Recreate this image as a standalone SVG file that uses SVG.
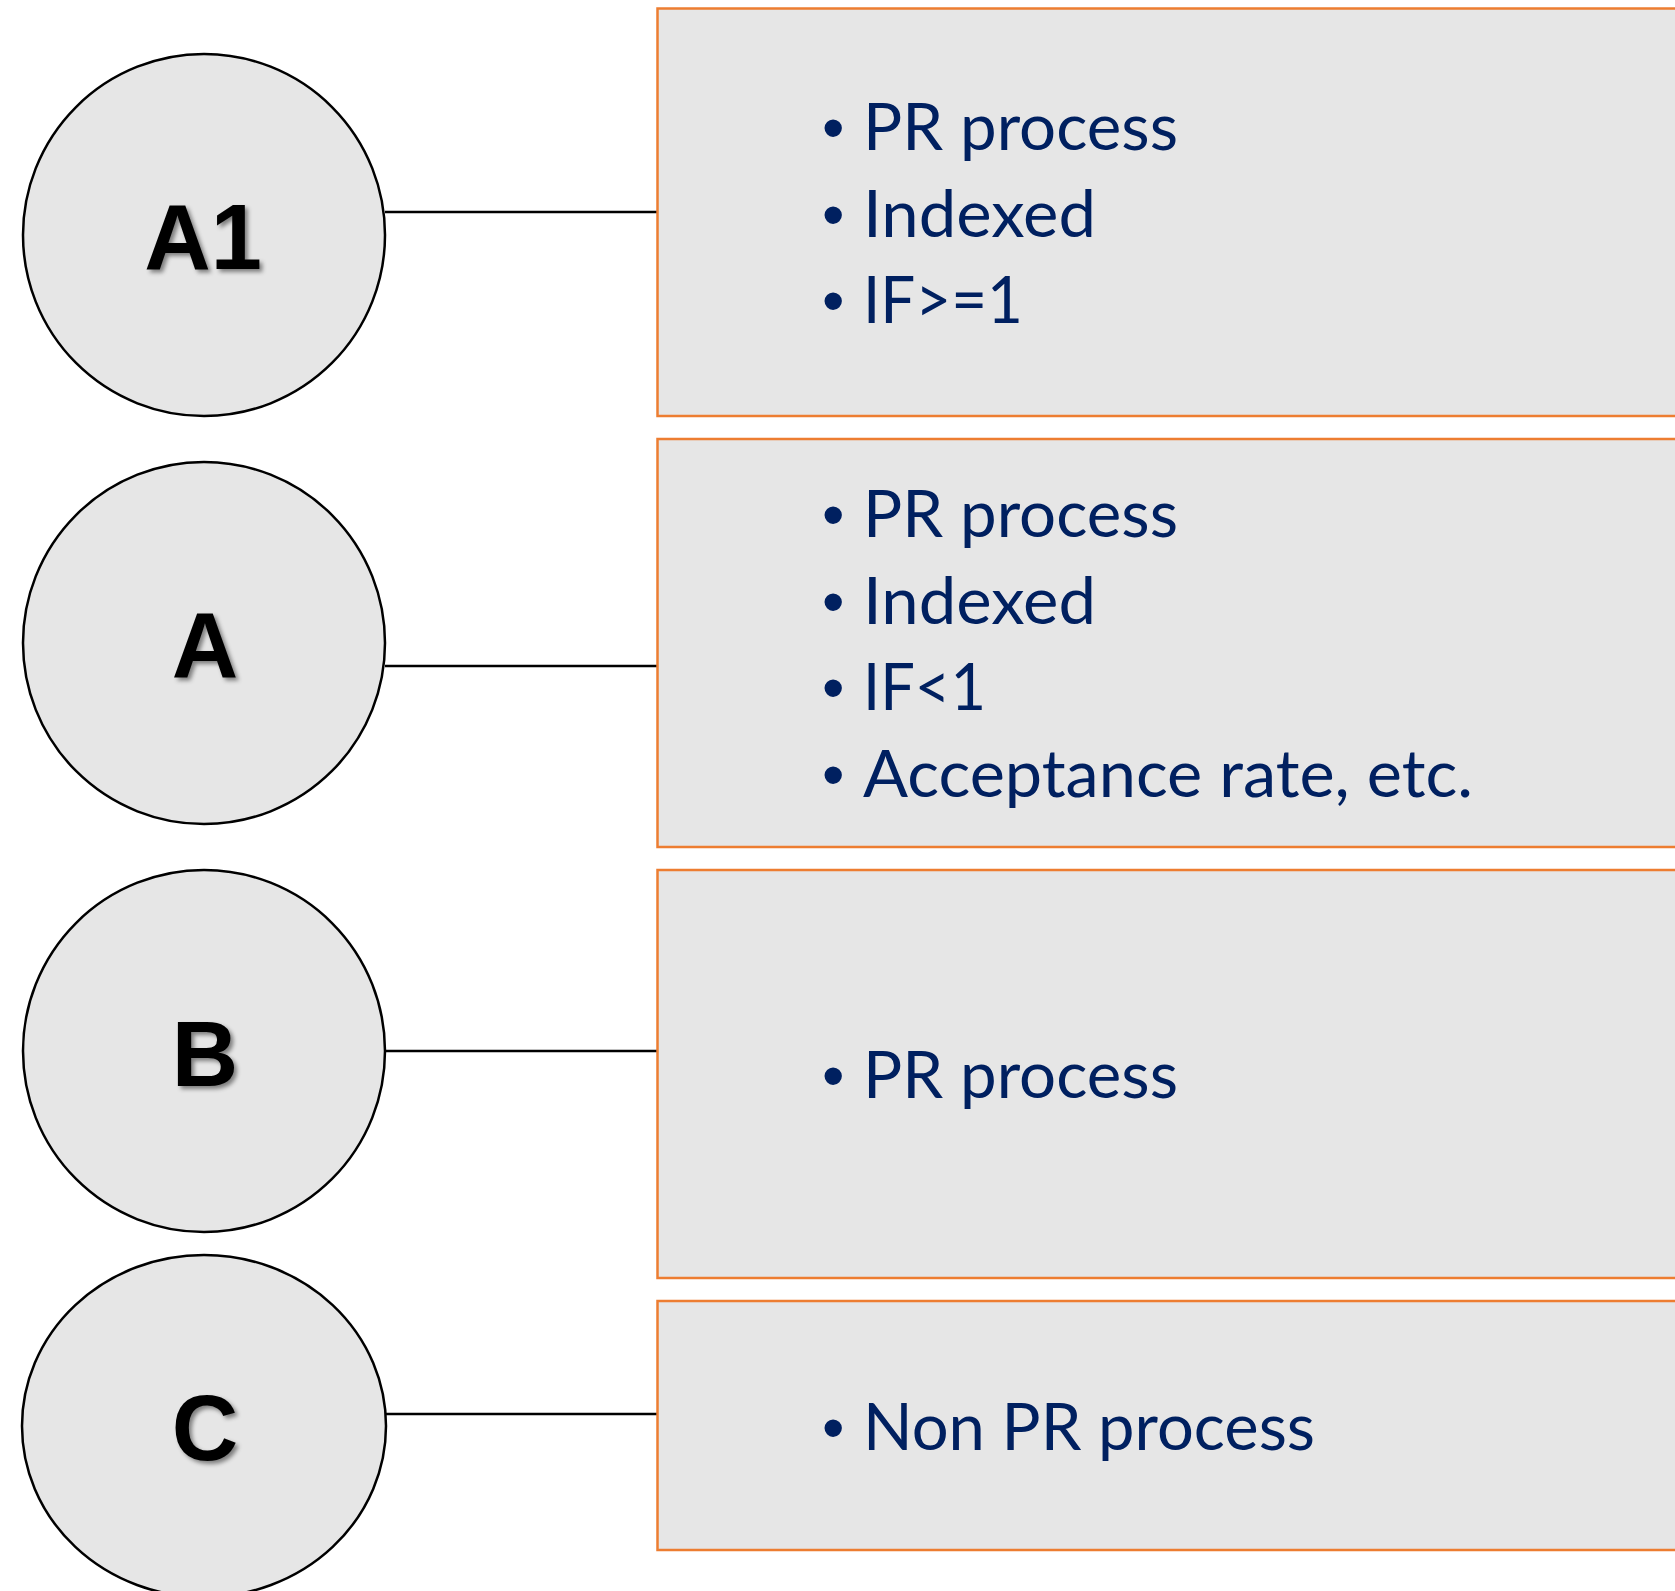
<svg xmlns="http://www.w3.org/2000/svg" width="1675" height="1591" viewBox="0 0 1675 1591">
  <defs>
    <filter id="shadow" x="-20%" y="-20%" width="140%" height="140%">
      <feDropShadow dx="3" dy="3" stdDeviation="2" flood-color="#000" flood-opacity="0.45"/>
    </filter>
    <style>
      .circ { fill: #E6E6E6; stroke: #000; stroke-width: 2.5; }
      .box { fill: #E6E6E6; stroke: #ED7D31; stroke-width: 2.5; }
      .conn { stroke: #000; stroke-width: 2.3; fill: none; }
      .lbl { font-family: "Liberation Sans", Arial, sans-serif; font-weight: bold; font-size: 92px; fill: #000; text-anchor: middle; filter: url(#shadow); }
      .item { font-family: Lato, "Open Sans", sans-serif; font-size: 65px; fill: #002060; }
      .bul { font-family: "Liberation Sans", Arial, sans-serif; font-size: 64px; fill: #002060; }
    </style>
  </defs>
  <rect width="1675" height="1591" fill="#FFFFFF"/>

  <g id="connectors">
    <line class="conn" x1="385" y1="212" x2="657" y2="212"/>
    <line class="conn" x1="385" y1="666" x2="657" y2="666"/>
    <line class="conn" x1="385" y1="1051" x2="657" y2="1051"/>
    <line class="conn" x1="385" y1="1414" x2="657" y2="1414"/>
  </g>

  <g id="node-A1">
    <circle class="circ" cx="204" cy="235" r="181"/>
    <text class="lbl" x="203" y="269">A1</text>
  </g>
  <g id="node-A">
    <circle class="circ" cx="204" cy="643" r="181"/>
    <text class="lbl" x="205" y="677">A</text>
  </g>
  <g id="node-B">
    <circle class="circ" cx="204" cy="1051" r="181"/>
    <text class="lbl" x="205" y="1086">B</text>
  </g>
  <g id="node-C">
    <ellipse class="circ" cx="204" cy="1426" rx="182" ry="171"/>
    <text class="lbl" x="205" y="1460">C</text>
  </g>

  <g id="box-A1">
    <rect class="box" x="657.5" y="8.5" width="1100" height="407.5"/>
    <text class="bul" x="822" y="150">•</text>
    <text class="item" x="863" y="150" textLength="315" lengthAdjust="spacingAndGlyphs">PR process</text>
    <text class="bul" x="822" y="237">•</text>
    <text class="item" x="863" y="237" textLength="233" lengthAdjust="spacingAndGlyphs">Indexed</text>
    <text class="bul" x="822" y="323">•</text>
    <text class="item" x="863" y="323" textLength="160" lengthAdjust="spacingAndGlyphs">IF&gt;=1</text>
  </g>
  <g id="box-A">
    <rect class="box" x="657.5" y="439" width="1100" height="408"/>
    <text class="bul" x="822" y="537">•</text>
    <text class="item" x="863" y="537" textLength="315" lengthAdjust="spacingAndGlyphs">PR process</text>
    <text class="bul" x="822" y="624">•</text>
    <text class="item" x="863" y="624" textLength="233" lengthAdjust="spacingAndGlyphs">Indexed</text>
    <text class="bul" x="822" y="710">•</text>
    <text class="item" x="863" y="710" textLength="123" lengthAdjust="spacingAndGlyphs">IF&lt;1</text>
    <text class="bul" x="822" y="797">•</text>
    <text class="item" x="863" y="797" textLength="610" lengthAdjust="spacingAndGlyphs">Acceptance rate, etc.</text>
  </g>
  <g id="box-B">
    <rect class="box" x="657.5" y="870" width="1100" height="408"/>
    <text class="bul" x="822" y="1098">•</text>
    <text class="item" x="863" y="1098" textLength="315" lengthAdjust="spacingAndGlyphs">PR process</text>
  </g>
  <g id="box-C">
    <rect class="box" x="657.5" y="1301" width="1100" height="249"/>
    <text class="bul" x="822" y="1450">•</text>
    <text class="item" x="863" y="1450" textLength="452" lengthAdjust="spacingAndGlyphs">Non PR process</text>
  </g>
</svg>
